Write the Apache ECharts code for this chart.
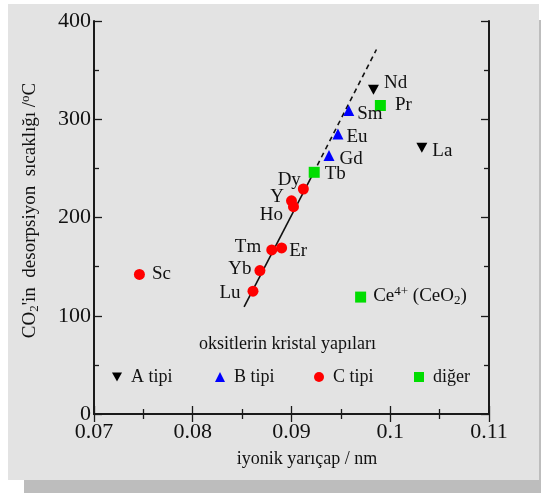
<!DOCTYPE html>
<html>
<head>
<meta charset="utf-8">
<script src="https://cdn.jsdelivr.net/npm/echarts@6/dist/echarts.min.js"></script>
<style>
html,body{margin:0;padding:0;background:#ffffff;}
#wrap{position:relative;width:541px;height:493px;overflow:hidden;}
#panel{position:absolute;left:8px;top:4px;width:531px;height:476px;background:#e3e3e3;}
#shB{position:absolute;left:24px;top:480px;width:517px;height:13px;background:#bdbdbd;}
#shR{position:absolute;left:539px;top:20px;width:2px;height:460px;background:#bdbdbd;}
#chart{position:absolute;left:0;top:0;width:541px;height:493px;}
</style>
</head>
<body>
<div id="wrap"><div id="panel"></div><div id="shB"></div><div id="shR"></div><div id="chart"></div></div>
<script>
// ---- data ----
const xTicks = [0.07, 0.08, 0.09, 0.1, 0.11];
const yTicks = [0, 100, 200, 300, 400];

const aNames = ['Nd', 'La'];
const aRadius = [0.0983, 0.1032];
const aTemp = [330, 271];

const bNames = ['Sm', 'Eu', 'Gd'];
const bRadius = [0.0958, 0.0947, 0.0938];
const bTemp = [309, 285, 263];

const cNames = ['Dy', 'Y', 'Ho', 'Er', 'Tm', 'Yb', 'Lu', 'Sc'];
const cRadius = [0.0912, 0.0900, 0.0902, 0.0890, 0.0880, 0.0868, 0.0861, 0.0746];
const cTemp = [229, 217, 211, 169, 167, 146, 125, 142];

const oNames = ['Pr', 'Tb', 'Ce'];
const oRadius = [0.0990, 0.0923, 0.0970];
const oTemp = [314, 246, 119];

const fitSolidX = [0.0852, 0.0922];
const fitSolidY = [109, 245];
const fitDashX = [0.0922, 0.0986];
const fitDashY = [245, 371];

const seriesNames = ['A tipi', 'B tipi', 'C tipi', 'diğer'];
const legendTitle = 'oksitlerin kristal yapıları';
const labelText = { Ce: 'Ce{sup|4+} (CeO{sub|2})' };

// ---- label layout (style only) ----
const labelLayout = {
  Nd: ['right', 0, -7], La: ['right', 0, 3], Pr: ['right', 4, 0],
  Sm: ['right', -2, 4], Eu: ['right', -2, 3], Gd: ['right', 0, 3], Tb: ['right', 0, 2],
  Dy: ['left', 8, -9], Y: ['left', 3, -4], Ho: ['left', 0, 8], Er: ['right', -3, 3],
  Tm: ['left', 0, -3], Yb: ['left', 2, -2], Lu: ['left', -2, 2], Sc: ['right', 2, 0],
  Ce: ['right', 2, -1]
};

const SERIF = '"Liberation Serif", "DejaVu Serif", serif';
const TXT = '#111';

function pts(names, xs, ys) {
  return names.map((n, i) => {
    const l = labelLayout[n];
    return {
      name: n, value: [xs[i], ys[i]],
      label: { position: l[0], offset: [l[1], l[2]] }
    };
  });
}
function pairs(xs, ys) { return xs.map((x, i) => [x, ys[i]]); }

const labelBase = {
  show: true, formatter: p => labelText[p.name] || p.name,
  fontFamily: SERIF, fontSize: 19, color: TXT, distance: 5,
  rich: {
    sup: { fontFamily: SERIF, fontSize: 13, color: TXT, padding: [0, 0, 9, 0] },
    sub: { fontFamily: SERIF, fontSize: 13, color: TXT, padding: [9, 0, 0, 0] }
  }
};

function scatter(name, symbol, color, size, data) {
  return {
    name, type: 'scatter', symbol, symbolSize: size,
    itemStyle: { color, opacity: 1 }, data, label: labelBase,
    emphasis: { disabled: true }, z: 5
  };
}

const legendPos = [112, 215, 314, 414];
const legends = seriesNames.map((n, i) => ({
  data: [n], left: legendPos[i], top: 368, orient: 'horizontal',
  itemWidth: 10, itemHeight: 10, itemGap: 0, padding: 0,
  textStyle: { fontFamily: SERIF, fontSize: 18, color: TXT, padding: [0, 0, 0, 4] },
  selectedMode: false
}));

const axisLine = { show: true, lineStyle: { color: '#1a1a1a', width: 2 } };
const tick = { show: true, inside: true, length: 8, lineStyle: { color: '#1a1a1a', width: 1.3 } };
const minor = { show: true, splitNumber: 2, length: 5, lineStyle: { color: '#1a1a1a', width: 1.3 } };

const chart = echarts.init(document.getElementById('chart'), null, { renderer: 'canvas' });
chart.setOption({
  backgroundColor: 'transparent',
  animation: false,
  title: {
    text: legendTitle, left: 199, top: 335, padding: 0,
    textStyle: { fontFamily: SERIF, fontSize: 18, fontWeight: 'normal', color: TXT }
  },
  legend: legends,
  grid: { left: 94, top: 21, right: 52, bottom: 79, show: false },
  xAxis: [{
    type: 'value', min: xTicks[0], max: xTicks[xTicks.length - 1], interval: 0.01,
    axisLine, axisTick: tick, minorTick: minor, splitLine: { show: false },
    axisLabel: {
      fontFamily: SERIF, fontSize: 22, color: TXT, margin: 7,
      formatter: v => String(parseFloat(v.toFixed(3)))
    },
    name: 'iyonik yarıçap / nm', nameLocation: 'middle', nameGap: 36,
    nameTextStyle: { fontFamily: SERIF, fontSize: 18, color: TXT, padding: [0, 0, 0, 31] }
  }, {
    type: 'value', position: 'top', min: xTicks[0], max: xTicks[xTicks.length - 1], interval: 0.01,
    axisLine, axisTick: tick, minorTick: minor, splitLine: { show: false },
    axisLabel: { show: false }
  }],
  yAxis: [{
    type: 'value', min: yTicks[0], max: yTicks[yTicks.length - 1], interval: 100,
    axisLine, axisTick: tick, minorTick: minor, splitLine: { show: false },
    axisLabel: { fontFamily: SERIF, fontSize: 22, color: TXT, margin: 3 },
    name: "CO{sub|2}'in  desorpsiyon  sıcaklığı /{sup|o}C",
    nameLocation: 'middle', nameGap: 53,
    nameTextStyle: {
      fontFamily: SERIF, fontSize: 19, color: TXT, padding: [0, 0, 0, 14],
      rich: {
        sub: { fontFamily: SERIF, fontSize: 13, color: TXT, padding: [9, 0, 0, 0] },
        sup: { fontFamily: SERIF, fontSize: 13, color: TXT, padding: [0, 0, 9, 0] }
      }
    }
  }, {
    type: 'value', position: 'right', min: yTicks[0], max: yTicks[yTicks.length - 1], interval: 100,
    axisLine, axisTick: tick, minorTick: minor, splitLine: { show: false },
    axisLabel: { show: false }
  }],
  series: [
    {
      type: 'line', data: pairs(fitSolidX, fitSolidY), symbol: 'none', silent: true,
      lineStyle: { color: '#111', width: 1.6, type: 'solid' }, z: 3
    },
    {
      type: 'line', data: pairs(fitDashX, fitDashY), symbol: 'none', silent: true,
      lineStyle: { color: '#111', width: 1.6, type: [5, 4] }, z: 3
    },
    scatter(seriesNames[0], 'path://M0,0 L10,0 L5,9 Z', '#000000', [11, 10], pts(aNames, aRadius, aTemp)),
    scatter(seriesNames[1], 'triangle', '#0000ff', 11, pts(bNames, bRadius, bTemp)),
    scatter(seriesNames[2], 'circle', '#ff0000', 11, pts(cNames, cRadius, cTemp)),
    scatter(seriesNames[3], 'rect', '#00dd00', 11, pts(oNames, oRadius, oTemp))
  ]
});
</script>
</body>
</html>
